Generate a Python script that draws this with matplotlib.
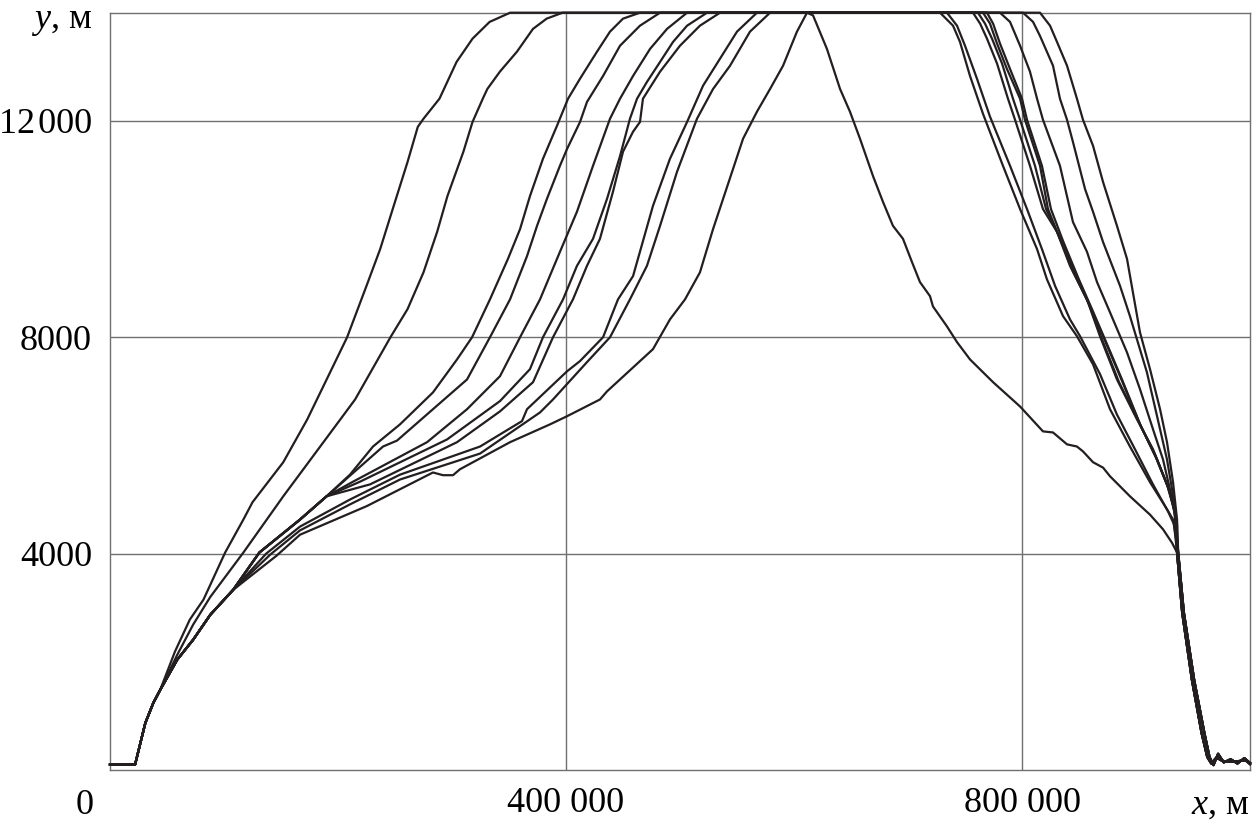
import matplotlib
matplotlib.use('Agg')
import matplotlib.pyplot as plt

plt.rcParams['font.family'] = ['Liberation Serif', 'DejaVu Serif']
plt.rcParams['mathtext.fontset'] = 'custom'
plt.rcParams['mathtext.it'] = 'Liberation Serif:italic'
plt.rcParams['mathtext.rm'] = 'Liberation Serif'

# common take-off part of every trajectory
start_x = [0, 22000, 31000, 38000, 44000]
start_y = [100, 100, 870, 1240, 1480]
# shared climb of the bundle (curves C..J) and of its upper group (C..G)
bundle_x = [59000, 73000, 88000, 108000]
bundle_y = [2040, 2410, 2870, 3330]
upper_x = [131000, 166700, 190000]
upper_y = [4020, 4630, 5060]
# common landing part (two slightly different variants)
end1_x = [937000, 942000, 951000, 960000, 964500, 968000, 972000, 977000, 983000, 989000, 995000, 1000000]
end1_y = [4020, 2910, 1670, 685, 240, 90, 300, 140, 200, 120, 220, 130]
end2_x = [936000, 940500, 949000, 957500, 962500, 966000, 970500, 975500, 981500, 988000, 996000, 1000000]
end2_y = [4020, 2910, 1670, 685, 240, 120, 230, 170, 150, 160, 180, 110]

# climbs
climb_a_x = [57000, 70000, 82000, 101000, 117000, 125000, 152000, 173000, 208000, 225000, 237000, 248000,
             261000, 270000, 275000, 289000, 304000, 318000, 333000, 351000]
climb_a_y = [2190, 2780, 3150, 4020, 4630, 4950, 5690, 6480, 8000, 8950, 9630, 10370,
             11240, 11890, 12040, 12410, 13090, 13520, 13830, 14000]
climb_b_x = [59000, 73000, 88000, 117000, 152000, 202000, 215000, 246000, 261000, 275000, 287000, 296000,
             310000, 318000, 327000, 331000, 342000, 357000, 371000, 383000, 397000]
climb_b_y = [2130, 2690, 3200, 4020, 5060, 6480, 6850, 8000, 8520, 9200, 9950, 10610,
             11430, 11980, 12410, 12590, 12910, 13280, 13700, 13890, 14000]
climb_c_x = [210500, 230700, 254400, 283300, 304400, 317600, 333300, 349100, 359700, 368400, 379800, 392100,
             401800, 412300, 427200, 438600, 450000, 464900]
climb_c_y = [5460, 5980, 6390, 6980, 7590, 8000, 8700, 9450, 10000, 10610, 11300, 11910,
             12410, 12780, 13280, 13650, 13890, 14000]
climb_d_x = [239500, 251800, 283300, 313200, 333300, 350900, 365800, 374600, 383300, 394700, 400900, 412300,
             418400, 432500, 447400, 464900, 482500]
climb_d_y = [5980, 6090, 6670, 7220, 8000, 8700, 9500, 10060, 10560, 11170, 11480, 11980,
             12350, 12830, 13390, 13760, 14000]
climb_e_x = [213200, 278100, 313200, 342100, 359700, 377200, 394700, 409600, 423700, 438600, 447400, 458800,
             473700, 488600, 506200]
climb_e_y = [5330, 6060, 6670, 7280, 8000, 8700, 9580, 10320, 11170, 12040, 12410, 12830,
             13330, 13700, 14000]
climb_f_x = [219300, 295600, 342100, 368400, 379800, 397400, 409600, 423700, 436000, 447400, 456100, 462300,
             471000, 482500, 493900, 506200, 523700]
climb_f_y = [5330, 6110, 6820, 7410, 8000, 8700, 9320, 9820, 10560, 11350, 12040, 12410,
             12720, 13090, 13460, 13760, 14000]
climb_g_x = [228100, 304400, 342100, 371100, 388600, 406100, 418400, 429800, 441200, 450000, 458800, 464900,
             467500, 482500, 500000, 517500, 535100]
climb_g_y = [5280, 6060, 6630, 7170, 8000, 8700, 9320, 9820, 10690, 11430, 11800, 11980,
             12410, 12910, 13390, 13760, 14000]
climb_h_x = [137000, 166700, 210500, 254400, 324600, 361400, 365800, 400900, 412300, 432500, 445600, 458800,
             476300, 491200, 506200, 520200, 535100, 550000, 567500]
climb_h_y = [4000, 4500, 5000, 5460, 5980, 6450, 6670, 7370, 7560, 8000, 8700, 9130,
             10430, 11300, 11980, 12650, 13150, 13650, 14000]
climb_i_x = [141000, 166700, 210500, 254400, 324600, 377200, 388600, 418400, 438600, 456100, 471000, 482500,
             497400, 514900, 529000, 543900, 561400, 579000]
climb_i_y = [3990, 4430, 4910, 5370, 5850, 6610, 6850, 7540, 8000, 8700, 9320, 10060,
             11060, 12040, 12590, 13020, 13650, 14000]
climb_j_x = [146000, 166700, 225400, 283300, 292100, 300900, 307000, 350900, 386000, 400900, 429800, 436000,
             476300, 491200, 504400, 517500, 529000, 546500, 555300, 567500, 579000, 590400, 602600, 611400]
climb_j_y = [3960, 4350, 4880, 5500, 5450, 5450, 5560, 6060, 6390, 6540, 6850, 7000,
             7780, 8330, 8700, 9200, 10000, 11110, 11670, 12170, 12590, 13020, 13650, 14000]

# descents
desc_j_x = [616700, 628900, 640400, 649100, 657900, 669300, 678100, 686800, 695600, 703500, 710500, 719300,
            721900, 734200, 743000, 754400, 774600, 798300, 818400, 827200, 839500, 848200, 853500, 862300,
            871100, 877200, 894700, 912300, 923700, 931600]
desc_j_y = [13950, 13330, 12590, 12170, 11670, 10980, 10500, 10060, 9820, 9390, 9020, 8760,
            8570, 8200, 7910, 7590, 7170, 6720, 6260, 6240, 6020, 5980, 5890, 5690,
            5590, 5430, 5060, 4720, 4450, 4200]
desc_p1_x = [728100, 739500, 745600, 754400, 765800, 783300, 798300, 813200, 821900, 836000, 848200, 862300,
             877200, 894700, 912300, 927200, 932500]
desc_p1_y = [14000, 13760, 13460, 12830, 12130, 11170, 10370, 9630, 9070, 8390, 8020, 7500,
             6670, 5980, 5320, 4820, 4630]
desc_p2_x = [734200, 743000, 750000, 760500, 771900, 789500, 804400, 817500, 829000, 842100, 850900, 868400,
             883300, 899100, 914900, 928100, 933400]
desc_p2_y = [14000, 13760, 13390, 12780, 12080, 11170, 10370, 9630, 8950, 8330, 8020, 7320,
             6570, 5930, 5280, 4780, 4540]
desc_q1_x = [757000, 763200, 769300, 778100, 787700, 793900, 807000, 818400, 830700, 842100, 857000, 868400,
             883300, 900900, 914900, 927200, 933400]
desc_q1_y = [14000, 13800, 13520, 13060, 12410, 12020, 11170, 10370, 9950, 9320, 8700, 8020,
             7220, 6480, 5930, 5280, 4820]
desc_q2_x = [761400, 767500, 773700, 782500, 792100, 798300, 811400, 821100, 832500, 844700, 858800, 870200,
             885100, 902600, 916700, 928100, 934200]
desc_q2_y = [14000, 13800, 13520, 13060, 12410, 12020, 11170, 10370, 9870, 9220, 8610, 7960,
             7170, 6430, 5830, 5220, 4780]
desc_q3_x = [765800, 771900, 778100, 786800, 798300, 802600, 815800, 822800, 833300, 848200, 859600, 871100,
             886000, 903500, 917500, 929000, 934200]
desc_q3_y = [14000, 13800, 13430, 12960, 12410, 12020, 11170, 10370, 9820, 9130, 8570, 8020,
             7280, 6390, 5780, 5190, 4720]
desc_q4_x = [769300, 774600, 780700, 789500, 800000, 804400, 817500, 825400, 836000, 849900, 861400, 872800,
             887700, 904400, 918400, 929800, 935100]
desc_q4_y = [14000, 13800, 13430, 12960, 12410, 12020, 11170, 10370, 9780, 9070, 8520, 7960,
             7220, 6350, 5740, 5150, 4690]
desc_r_x = [780700, 789500, 798300, 807000, 813200, 818400, 833300, 844700, 857000, 865800, 877200, 892100,
            903500, 914900, 923700, 929800, 935100]
desc_r_y = [14000, 13830, 13390, 12910, 12410, 12020, 11170, 10130, 9580, 9020, 8460, 7720,
            7040, 6300, 5740, 5190, 4630]
desc_s_x = [800900, 809700, 815800, 827200, 833300, 839500, 844700, 855300, 862300, 871100, 886000, 894700,
            909600, 921100, 927200, 931600, 936000]
desc_s_y = [14000, 13830, 13570, 13020, 12410, 12020, 11610, 10740, 10320, 9760, 8950, 8390,
            7350, 6300, 5740, 5190, 4540]
desc_t_x = [815800, 824600, 830700, 839500, 848200, 853500, 862300, 871100, 883300, 892100, 903500, 912300,
            921100, 927200, 932500, 936000]
desc_t_y = [14000, 13760, 13460, 13020, 12410, 12020, 11540, 10870, 10060, 9450, 8090, 7410,
            6670, 6060, 5320, 4630]

x_ticks = [400000, 800000]
x_labels = ['400 000', '800 000']
y_ticks = [4000, 8000, 12000]
y_labels = ['4000', '8000', '12\u200a000']

line_color = '#231f20'
grid_color = '#707070'

fig = plt.figure(figsize=(12.53, 8.27), dpi=100)
ax = fig.add_axes([110/1253, 57/827, 1140/1253, 757.3/827])

# (climb, shared parts before it, descent, landing variant)
curves = [
    ((climb_a_x, climb_a_y), [], (desc_p1_x, desc_p1_y), (end1_x, end1_y)),
    ((climb_b_x, climb_b_y), [], (desc_p2_x, desc_p2_y), (end2_x, end2_y)),
    ((climb_c_x, climb_c_y), [(bundle_x, bundle_y), (upper_x, upper_y)], (desc_q1_x, desc_q1_y), (end1_x, end1_y)),
    ((climb_d_x, climb_d_y), [(bundle_x, bundle_y), (upper_x, upper_y)], (desc_q2_x, desc_q2_y), (end2_x, end2_y)),
    ((climb_e_x, climb_e_y), [(bundle_x, bundle_y), (upper_x, upper_y)], (desc_q3_x, desc_q3_y), (end1_x, end1_y)),
    ((climb_f_x, climb_f_y), [(bundle_x, bundle_y), (upper_x, upper_y)], (desc_q4_x, desc_q4_y), (end2_x, end2_y)),
    ((climb_g_x, climb_g_y), [(bundle_x, bundle_y), (upper_x, upper_y)], (desc_r_x, desc_r_y), (end1_x, end1_y)),
    ((climb_h_x, climb_h_y), [(bundle_x, bundle_y)], (desc_s_x, desc_s_y), (end2_x, end2_y)),
    ((climb_i_x, climb_i_y), [(bundle_x, bundle_y)], (desc_t_x, desc_t_y), (end1_x, end1_y)),
    ((climb_j_x, climb_j_y), [(bundle_x, bundle_y)], (desc_j_x, desc_j_y), (end2_x, end2_y)),
]

for climb, shared, desc, end in curves:
    xs = list(start_x)
    ys = list(start_y)
    for sx, sy in shared:
        xs += sx
        ys += sy
    xs += climb[0] + desc[0] + end[0]
    ys += climb[1] + desc[1] + end[1]
    ax.plot(xs, ys, color=line_color, linewidth=1.6, clip_on=False, zorder=3)

ax.set_xlim(0, 1000000)
ax.set_ylim(0, 14000)
ax.set_xticks(x_ticks)
ax.set_xticklabels(x_labels)
ax.set_yticks(y_ticks)
ax.set_yticklabels(y_labels)
ax.tick_params(length=0, labelsize=26)
ax.tick_params(axis='y', pad=13)
ax.tick_params(axis='x', pad=12)
ax.grid(True, color=grid_color, linewidth=1.0)
for sp in ax.spines.values():
    sp.set_color(grid_color)
    sp.set_linewidth(1.0)

fig.text(85/1253, 1 - 805/827, '0', ha='center', va='center', fontsize=26)
fig.text(92/1253, 1 - 22/827, r'$y$, м', ha='right', va='center', fontsize=26)
fig.text(1250/1253, 1 - 805/827, r'$x$, м', ha='right', va='center', fontsize=26)

fig.savefig('out.png', dpi=100)
